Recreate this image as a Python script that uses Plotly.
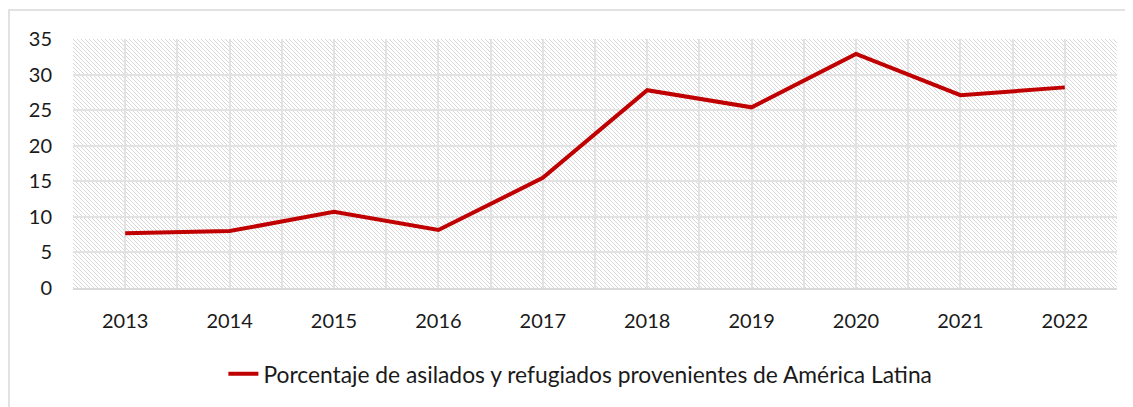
import base64
import plotly.graph_objects as go

years = [2013, 2014, 2015, 2016, 2017, 2018, 2019, 2020, 2021, 2022]
values = [7.7, 8.0, 10.7, 8.15, 15.5, 27.8, 25.4, 32.9, 27.1, 28.2]
series_name = "Porcentaje de asilados y refugiados provenientes de América Latina"
y_max = 35
y_ticks = [0, 5, 10, 15, 20, 25, 30, 35]

FONT = "Lato"
# the page body adds an 8px offset, so the figure is sized for the remaining area
W, H = 1125, 399
ML, MR, MT, MB = 65, 16, 31, 119
PW, PH = W - ML - MR, H - MT - MB

HATCH = "#d8d8d8"
# hatched background for the plot area (diagonal "\" stripes, 1px, period 4)
svg = (
    f'<svg xmlns="http://www.w3.org/2000/svg" width="{PW}" height="{PH}" viewBox="0 0 {PW} {PH}" shape-rendering="crispEdges">'
    '<defs><pattern id="h" patternUnits="userSpaceOnUse" width="4" height="4">'
    + "".join(f'<rect x="{i}" y="{i}" width="1" height="1" fill="{HATCH}"/>' for i in range(4))
    + '</pattern></defs>'
    f'<rect width="{PW}" height="{PH}" fill="white"/>'
    f'<rect width="{PW}" height="{PH}" fill="url(#h)"/></svg>'
)
hatch_src = "data:image/svg+xml;base64," + base64.b64encode(svg.encode()).decode()

fig = go.Figure()

fig.add_trace(go.Scatter(
    x=years, y=values, mode="lines", name=series_name,
    line=dict(color="#C00000", width=4),
))

fig.update_layout(
    width=W, height=H,
    margin=dict(l=ML, r=MR, t=MT, b=MB, autoexpand=False),
    paper_bgcolor="white", plot_bgcolor="rgba(0,0,0,0)",
    font=dict(family=FONT, color="#1a1a1a", size=16),
    showlegend=True,
    legend=dict(orientation="h", x=0.486, xanchor="center", y=-0.345, yanchor="middle",
                font=dict(size=22.8, family=FONT)),
    xaxis=dict(
        range=[years[0] - 0.5, years[-1] + 0.5],
        tickvals=years, ticktext=[str(y) for y in years],
        showgrid=True, gridcolor="#e2e2e2", gridwidth=1.5,
        minor=dict(tick0=years[0] - 0.5, dtick=1, showgrid=True, gridcolor="#e2e2e2", gridwidth=1.5),
        showline=True, linecolor="#d9d9d9", linewidth=1.5,
        ticks="", ticklabelstandoff=14, zeroline=False, automargin=False,
        tickfont=dict(size=20),
    ),
    yaxis=dict(
        range=[0, y_max], tickvals=y_ticks,
        showgrid=True, gridcolor="#e2e2e2", gridwidth=1.5,
        showline=False, zeroline=False, ticks="", ticklabelstandoff=20, automargin=False,
        tickfont=dict(size=20),
    ),
    images=[dict(source=hatch_src, xref="paper", yref="paper", x=0, y=1,
                 sizex=1, sizey=1, xanchor="left", yanchor="top",
                 sizing="stretch", layer="below")],
    shapes=[dict(type="rect", xref="paper", yref="paper",
                 x0=-0.0613, x1=1.2, y0=-1.0, y1=1.1165,
                 line=dict(color="#d9d9d9", width=1.5), fillcolor="rgba(0,0,0,0)",
                 layer="below")],
)

fig.write_html("out.html")
